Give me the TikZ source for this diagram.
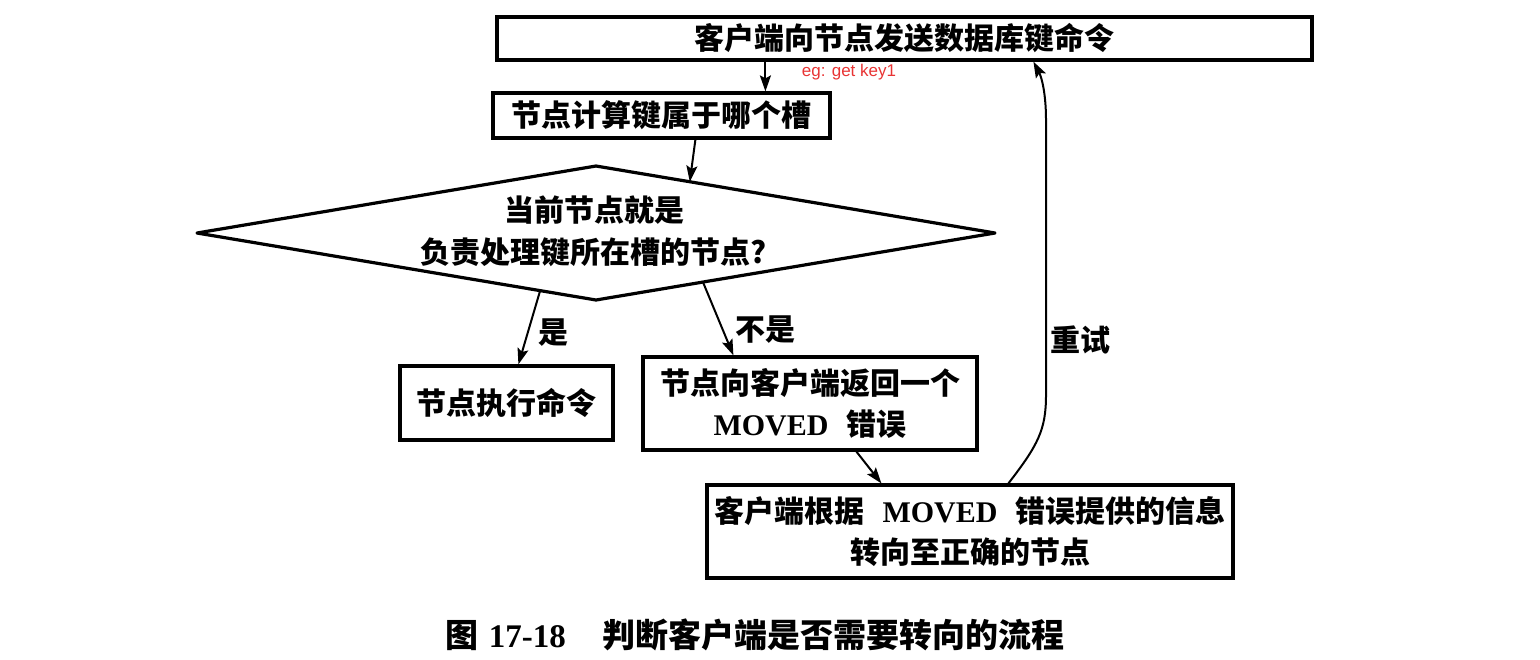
\documentclass[tikz,border=0pt]{standalone}
\usepackage{fontspec}
\usetikzlibrary{arrows.meta,calc}
\newfontfamily\cjk{Noto Sans CJK SC}
\newfontfamily\lat{Liberation Serif}
\newfontfamily\redsans{Liberation Sans}
\definecolor{egred}{RGB}{232,52,52}
\tikzset{
  box/.style={draw, line width=1.6pt, rectangle, inner sep=0pt, align=center,
    font=\cjk\bfseries\fontsize{15pt}{20.5pt}\selectfont},
  dectext/.style={inner sep=0pt, align=center,
    font=\cjk\bfseries\fontsize{15pt}{21pt}\selectfont},
  decline/.style={line width=1.6pt, line join=round},
  arr/.style={line width=1pt, -{Stealth[length=8pt,width=5.5pt,inset=1.5pt]}},
  lbl/.style={font=\cjk\bfseries\fontsize{15pt}{18pt}\selectfont, inner sep=0pt},
}
\newcommand{\mv}{{\lat\bfseries MOVED}}
\begin{document}
\begin{tikzpicture}[x=0.5pt,y=-0.5pt]
\useasboundingbox (0,0) rectangle (1540,659);
\node[box, minimum width=407.5pt, minimum height=21.5pt] (top) at (904.5,38.5) {客户端向节点发送数据库键命令};
\node[box, minimum width=168.5pt, minimum height=22.5pt] (calc) at (661.5,115.5) {节点计算键属于哪个槽};
% decision diamond
\coordinate (dN) at (596,166);
\coordinate (dE) at (995,233);
\coordinate (dS) at (596,300);
\coordinate (dW) at (197,233);
\draw[decline] (dN) -- (dE) -- (dS) -- (dW) -- cycle;
\node[dectext] (d) at (594,231) {当前节点就是\\负责处理键所在槽的节点?};
\node[box, minimum width=106.5pt, minimum height=37pt] (yes) at (506.5,403) {节点执行命令};
\node[box, minimum width=167pt, minimum height=46.5pt] (no) at (810,403.5) {节点向客户端返回一个\\\mv\hspace{0.6em}错误};
\node[box, minimum width=263pt, minimum height=46.5pt] (redir) at (970,531.5) {客户端根据\hspace{0.6em}\mv\hspace{0.6em}错误提供的信息\\转向至正确的节点};
\node[font=\redsans\fontsize{8.5pt}{10pt}\selectfont, text=egred, inner sep=0pt] (eg) at (849,72) {eg: get key1};
\node[lbl] (lyes) at (553,333) {是};
\node[lbl] (lno) at (765,330) {不是};
\node[lbl] (lretry) at (1080,340) {重试};
\node[font=\cjk\bfseries\fontsize{16.5pt}{19pt}\selectfont, inner sep=0pt] (cap) at (755,635) {图\hspace{0.3em}{\lat\bfseries 17-18}\hspace{1.1em}判断客户端是否需要转向的流程};
\draw[arr] ([xshift=135pt]top.south west) -- ([xshift=137pt]calc.north west);
\draw[arr] ([xshift=102pt]calc.south west) -- ($(dN)!0.235!(dE)$);
\draw[arr] ($(dS)!0.14!(dW)$) -- ([xshift=60pt]yes.north west);
\draw[arr] ($(dS)!0.268!(dE)$) -- ([xshift=46pt]no.north west);
\draw[arr] ([xshift=107.5pt]no.south west) -- ([xshift=88pt]redir.north west);
\draw[arr] ([xshift=151.5pt]redir.north west) .. controls (1038,445) and (1046,430) .. (1046,395)
  -- (1046,120) .. controls (1046,95) and (1042,78) .. ([xshift=269pt]top.south west);
\end{tikzpicture}
\end{document}
